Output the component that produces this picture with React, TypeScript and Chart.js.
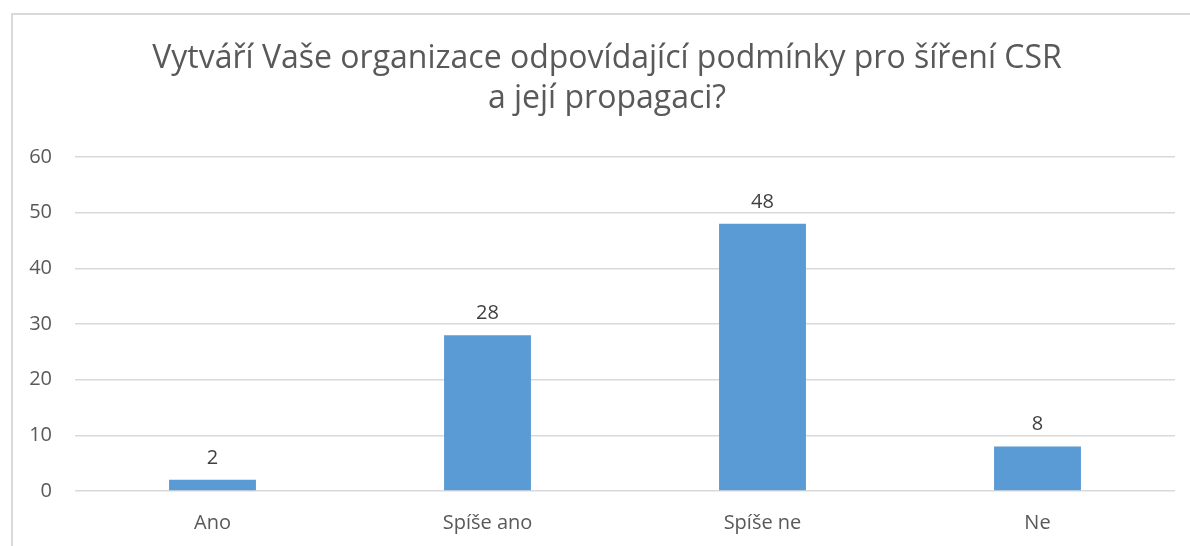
import React, { useEffect, useRef } from "react";
import { Chart, registerables } from "chart.js";

Chart.register(...registerables);

const titleLines = ["Vytváří Vaše organizace odpovídající podmínky pro šíření CSR", "a její propagaci?"];
const categories = ["Ano", "Spíše ano", "Spíše ne", "Ne"];
const values = [2, 28, 48, 8];
const yMin = 0;
const yMax = 60;
const yStep = 10;

const FONT = "'Open Sans', 'Noto Sans', sans-serif";
const TEXT = "#595959";

const dataLabels = {
  id: "dataLabels",
  afterDatasetsDraw(chart: any) {
    const ctx = chart.ctx;
    const meta = chart.getDatasetMeta(0);
    ctx.save();
    ctx.fillStyle = "#404040";
    ctx.font = `20px ${FONT}`;
    ctx.textAlign = "center";
    ctx.textBaseline = "bottom";
    meta.data.forEach((el: any, i: number) => {
      ctx.fillText(String(chart.data.datasets[0].data[i]), el.x, el.y - 12);
    });
    ctx.restore();
  },
};

export default function App() {
  const ref = useRef<HTMLCanvasElement>(null);
  useEffect(() => {
    document.body.style.margin = "0";
    const chart = new Chart(ref.current!, {
      type: "bar",
      data: {
        labels: categories,
        datasets: [
          {
            data: values,
            backgroundColor: "#5B9BD5",
            categoryPercentage: 1,
            barPercentage: 0.316,
          },
        ],
      },
      plugins: [dataLabels],
      options: {
        animation: false,
        responsive: false,
        layout: { padding: { left: 24, right: 0, top: 0, bottom: 0 } },
        plugins: {
          legend: { display: false },
          tooltip: { enabled: false },
          title: {
            display: true,
            text: titleLines,
            color: TEXT,
            font: { family: FONT, size: 32, weight: "normal", lineHeight: 1.25 },
            padding: { top: 39, bottom: 38 },
          },
        },
        scales: {
          x: {
            grid: { display: false, drawTicks: false },
            border: { display: false },
            ticks: { color: TEXT, font: { family: FONT, size: 20 }, padding: 20 },
            afterFit: (s: any) => {
              s.height = 55;
            },
          },
          y: {
            min: yMin,
            max: yMax,
            ticks: { stepSize: yStep, color: TEXT, font: { family: FONT, size: 20 }, padding: 23 },
            grid: { color: "#d9d9d9", lineWidth: 1.5, drawTicks: false },
            border: { display: false },
            afterFit: (s: any) => {
              s.width = 51;
            },
          },
          yRight: {
            position: "right",
            min: yMin,
            max: yMax,
            ticks: { display: false },
            grid: { display: false, drawTicks: false },
            border: { display: false },
            afterFit: (s: any) => {
              s.width = 15;
            },
          },
        },
      },
    });
    return () => chart.destroy();
  }, []);
  return (
    <div style={{ position: "fixed", left: 0, top: 0, width: 1190, height: 546, overflow: "hidden", background: "#fff" }}>
      <div
        style={{
          position: "absolute",
          left: 11,
          top: 13,
          width: 1300,
          height: 600,
          borderLeft: "2px solid #d9d9d9",
          borderTop: "2px solid #d9d9d9",
        }}
      />
      <canvas ref={ref} width={1190} height={546} style={{ position: "absolute", left: 0, top: 0 }} />
    </div>
  );
}
